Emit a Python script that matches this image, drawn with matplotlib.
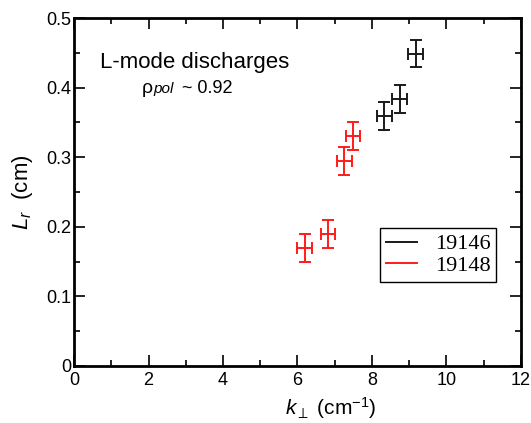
import matplotlib
matplotlib.use("Agg")
import matplotlib.pyplot as plt
from matplotlib.lines import Line2D
from matplotlib.ticker import MultipleLocator

# --- data ---
k_19146 = [8.33, 8.75, 9.18]
lr_19146 = [0.359, 0.384, 0.449]
kerr_19146 = [0.2, 0.2, 0.2]
lrerr_19146 = [0.02, 0.02, 0.02]

k_19148 = [6.20, 6.82, 7.26, 7.49]
lr_19148 = [0.170, 0.190, 0.294, 0.330]
kerr_19148 = [0.2, 0.2, 0.2, 0.2]
lrerr_19148 = [0.02, 0.02, 0.02, 0.02]

plt.rcParams['font.family'] = ['Liberation Sans', 'DejaVu Sans']
plt.rcParams['mathtext.fontset'] = 'custom'
plt.rcParams['mathtext.it'] = 'Liberation Sans:italic'
plt.rcParams['mathtext.rm'] = 'Liberation Sans'

fig = plt.figure(figsize=(5.31, 4.23), dpi=100)
ax = fig.add_axes([0.1394, 0.1348, 0.8416, 0.8226])

black = '#1a1a1a'
red = '#ff1a1a'
ax.errorbar(k_19146, lr_19146, xerr=kerr_19146, yerr=lrerr_19146, fmt='none',
            ecolor=black, elinewidth=1.4, capsize=4.5, capthick=1.4)
ax.errorbar(k_19148, lr_19148, xerr=kerr_19148, yerr=lrerr_19148, fmt='none',
            ecolor=red, elinewidth=1.4, capsize=4.5, capthick=1.4)

ax.set_xlim(0, 12)
ax.set_ylim(0, 0.5)
ax.xaxis.set_minor_locator(MultipleLocator(1))
ax.yaxis.set_minor_locator(MultipleLocator(0.05))
ax.set_xticks([0, 2, 4, 6, 8, 10, 12])
ax.set_xticklabels(['0', '2', '4', '6', '8', '10', '12'])
ax.set_yticks([0, 0.1, 0.2, 0.3, 0.4, 0.5])
ax.set_yticklabels(['0', '0.1', '0.2', '0.3', '0.4', '0.5'])

ax.tick_params(which='both', direction='in', top=True, right=True, labelsize=13, width=1.2)
ax.tick_params(which='major', length=8)
ax.tick_params(which='minor', length=4)
ax.tick_params(axis='x', pad=4)
ax.tick_params(axis='y', pad=2)
for s in ax.spines.values():
    s.set_linewidth(2)

ax.set_xlabel(r'$k_{\perp}$ (cm$^{-1}$)', fontsize=15)
ax.xaxis.set_label_coords(0.575, -0.085)
ax.set_ylabel(r'$L_r$  (cm)', fontsize=16)
ax.yaxis.set_label_coords(-0.088, 0.5)

ax.text(0.70, 0.4286, 'L-mode discharges', fontsize=16, va='baseline')
ax.text(1.83, 0.392, 'ρ', fontsize=14, va='baseline')
ax.text(2.12, 0.392, 'pol', fontsize=11, style='italic', va='baseline')
ax.text(2.90, 0.392, '~ 0.92', fontsize=13, va='baseline')

handles = [Line2D([], [], color=black, lw=1.4), Line2D([], [], color=red, lw=1.4)]
leg = ax.legend(handles, ['19146', '19148'], loc='center right',
                bbox_to_anchor=(0.944, 0.319), borderaxespad=0, frameon=True,
                fancybox=False, edgecolor='black', framealpha=1,
                prop={'family': 'Liberation Serif', 'size': 16},
                handlelength=1.4, borderpad=0.25, labelspacing=0.05, handletextpad=0.8)
leg.get_frame().set_linewidth(1.0)

fig.savefig('out.png', dpi=100)
